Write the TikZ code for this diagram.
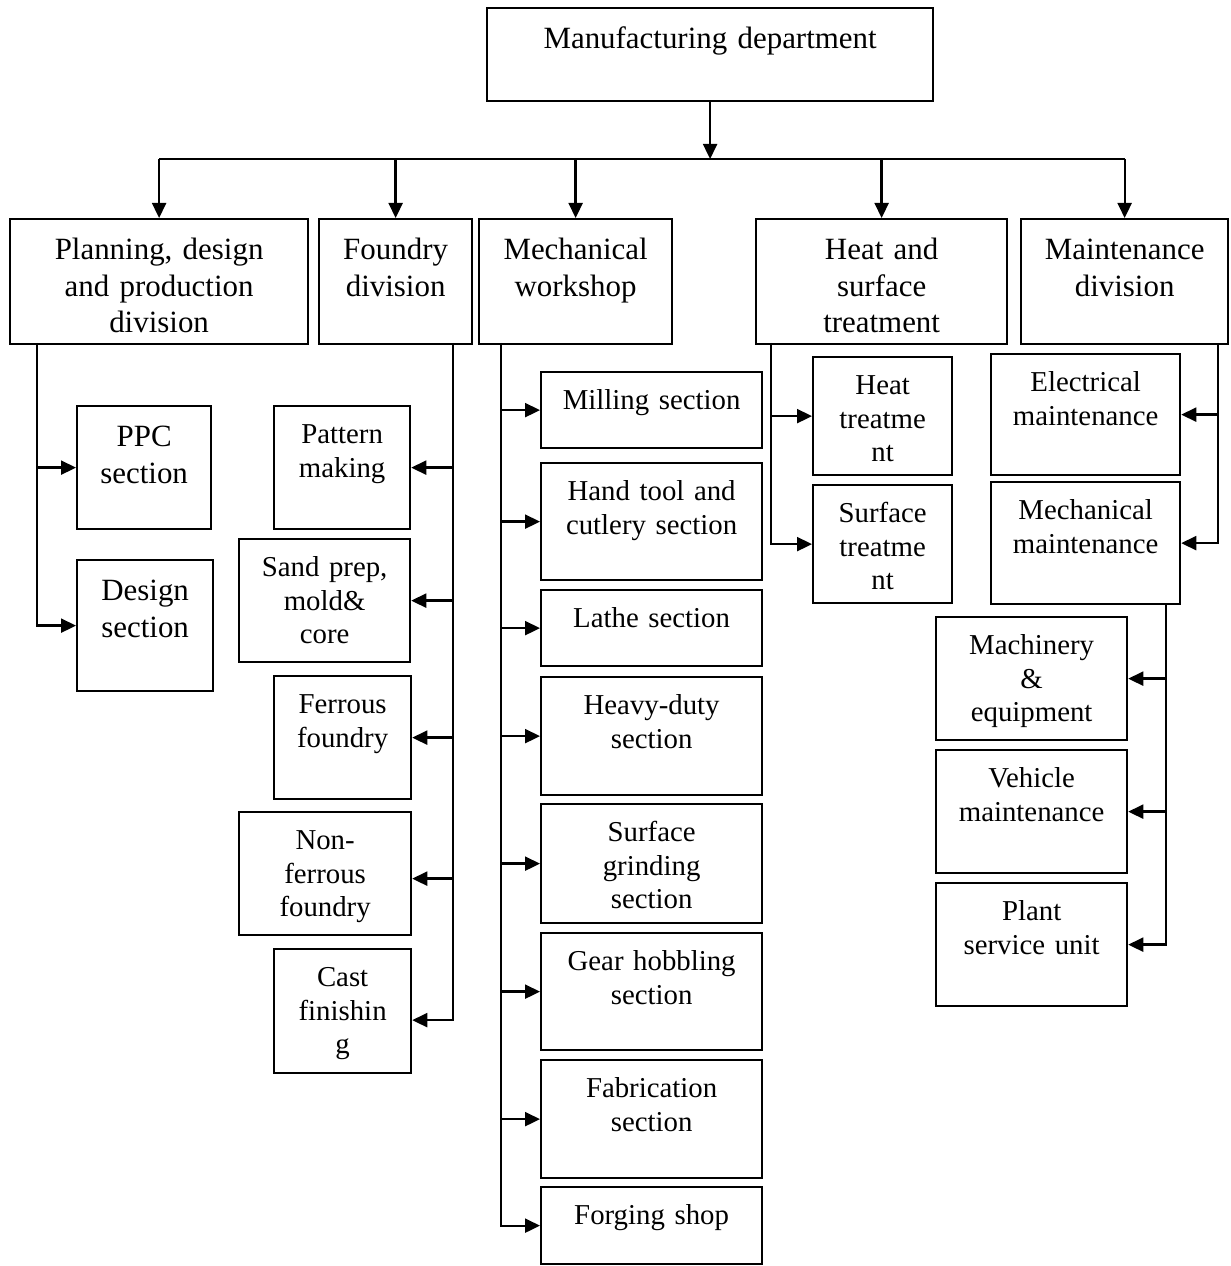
\documentclass[tikz,border=0pt]{standalone}
\usepackage{fontspec}
\setmainfont{Liberation Serif}
\usetikzlibrary{arrows.meta}
\newcommand{\divfont}{\fontsize{17.6pt}{21pt}\selectfont}
\newcommand{\secfont}{\fontsize{16.4pt}{19pt}\selectfont}

\begin{document}
\begin{tikzpicture}[x=0.02cm, y=-0.02cm, line width=1.3pt,
arr/.style={-{Triangle[length=0.30cm,width=0.28cm]}},
box/.style={draw, rectangle, inner sep=0pt, align=center, anchor=north west},
div/.style={box, font=\divfont, text height=0.80cm},
sec/.style={box, font=\secfont, text height=0.75cm}]
\useasboundingbox (0,0) rectangle (1230,1266);
\node[div, text width=8.92cm, text depth=1.06cm] (main) at (486,7) {Manufacturing department};
\node[div, text width=5.96cm, text depth=1.70cm] (plan) at (9,218) {Planning, design\\and production\\division};
\node[div, text width=3.06cm, text depth=1.70cm] (found) at (318,218) {Foundry\\division};
\node[div, text width=3.86cm, text depth=1.70cm] (mech) at (478,218) {Mechanical\\workshop};
\node[div, text width=5.02cm, text depth=1.70cm] (heat) at (755,218) {Heat and\\surface\\treatment};
\node[div, text width=4.14cm, text depth=1.70cm] (maint) at (1020,218) {Maintenance\\division};
\node[div, text width=2.68cm, text depth=1.66cm] (ppc) at (76,405) {PPC\\section};
\node[div, text width=2.72cm, text depth=1.82cm] (design) at (76,559) {Design\\section};
\node[sec, text width=2.72cm, text depth=1.71cm] (pattern) at (273,405) {Pattern\\making};
\node[sec, text width=3.42cm, text depth=1.71cm] (sand) at (238,538) {Sand prep,\\mold\&\\core};
\node[sec, text width=2.74cm, text depth=1.71cm] (ferrous) at (273,675) {Ferrous\\foundry};
\node[sec, text width=3.44cm, text depth=1.71cm] (nonferr) at (238,811) {Non-\\ferrous\\foundry};
\node[sec, text width=2.74cm, text depth=1.73cm] (cast) at (273,948) {Cast\\finishin\\g};
\node[sec, text width=4.42cm, text depth=0.77cm] (milling) at (540,371) {Milling section};
\node[sec, text width=4.42cm, text depth=1.59cm] (hand) at (540,462) {Hand tool and\\cutlery section};
\node[sec, text width=4.42cm, text depth=0.77cm] (lathe) at (540,589) {Lathe section};
\node[sec, text width=4.42cm, text depth=1.61cm] (heavy) at (540,676) {Heavy-duty\\section};
\node[sec, text width=4.42cm, text depth=1.63cm] (surfgr) at (540,803) {Surface\\grinding\\section};
\node[sec, text width=4.42cm, text depth=1.59cm] (gear) at (540,932) {Gear hobbling\\section};
\node[sec, text width=4.42cm, text depth=1.61cm] (fabr) at (540,1059) {Fabrication\\section};
\node[sec, text width=4.42cm, text depth=0.79cm] (forging) at (540,1186) {Forging shop};
\node[sec, text width=2.78cm, text depth=1.61cm] (heattr) at (812,356) {Heat\\treatme\\nt};
\node[sec, text width=2.78cm, text depth=1.61cm] (surftr) at (812,484) {Surface\\treatme\\nt};
\node[sec, text width=3.78cm, text depth=1.67cm] (elec) at (990,353) {Electrical\\maintenance};
\node[sec, text width=3.78cm, text depth=1.69cm] (mechm) at (990,481) {Mechanical\\maintenance};
\node[sec, text width=3.82cm, text depth=1.71cm] (machin) at (935,616) {Machinery\\\&\\equipment};
\node[sec, text width=3.82cm, text depth=1.71cm] (vehicle) at (935,749) {Vehicle\\maintenance};
\node[sec, text width=3.82cm, text depth=1.71cm] (plant) at (935,882) {Plant\\service unit};

\coordinate (bus) at (0,159);
\coordinate (ptrunk) at (37,343);
\coordinate (ftrunk) at (453,343);
\coordinate (mtrunk) at (501,343);
\coordinate (htrunk) at (771,343);
\coordinate (ntrunk) at (1218,343);
\coordinate (mmtrunk) at (1166,603);
\coordinate (nfin) at ([yshift=-0.1cm]nonferr.east);
\coordinate (castin) at ([yshift=-0.18cm]cast.east);

\draw[arr] (main.south) -- (main.south |- bus);
\draw (plan.north |- bus) -- (maint.north |- bus);
\draw[arr] (plan.north |- bus) -- (plan.north);
\draw[arr] (found.north |- bus) -- (found.north);
\draw[arr] (mech.north |- bus) -- (mech.north);
\draw[arr] (heat.north |- bus) -- (heat.north);
\draw[arr] (maint.north |- bus) -- (maint.north);

\draw[arr] (ptrunk) |- (design.west);
\draw[arr] (ptrunk |- ppc.west) -- (ppc.west);

\draw[arr] (ftrunk) |- (castin);
\draw[arr] (ftrunk |- pattern.east) -- (pattern.east);
\draw[arr] (ftrunk |- sand.east) -- (sand.east);
\draw[arr] (ftrunk |- ferrous.east) -- (ferrous.east);
\draw[arr] (ftrunk |- nfin) -- (nfin);

\draw[arr] (mtrunk) |- (forging.west);
\draw[arr] (mtrunk |- milling.west) -- (milling.west);
\draw[arr] (mtrunk |- hand.west) -- (hand.west);
\draw[arr] (mtrunk |- lathe.west) -- (lathe.west);
\draw[arr] (mtrunk |- heavy.west) -- (heavy.west);
\draw[arr] (mtrunk |- surfgr.west) -- (surfgr.west);
\draw[arr] (mtrunk |- gear.west) -- (gear.west);
\draw[arr] (mtrunk |- fabr.west) -- (fabr.west);

\draw[arr] (htrunk) |- (surftr.west);
\draw[arr] (htrunk |- heattr.west) -- (heattr.west);

\draw[arr] (ntrunk) |- (mechm.east);
\draw[arr] (ntrunk |- elec.east) -- (elec.east);

\draw[arr] (mmtrunk) |- (plant.east);
\draw[arr] (mmtrunk |- machin.east) -- (machin.east);
\draw[arr] (mmtrunk |- vehicle.east) -- (vehicle.east);
\end{tikzpicture}
\end{document}
